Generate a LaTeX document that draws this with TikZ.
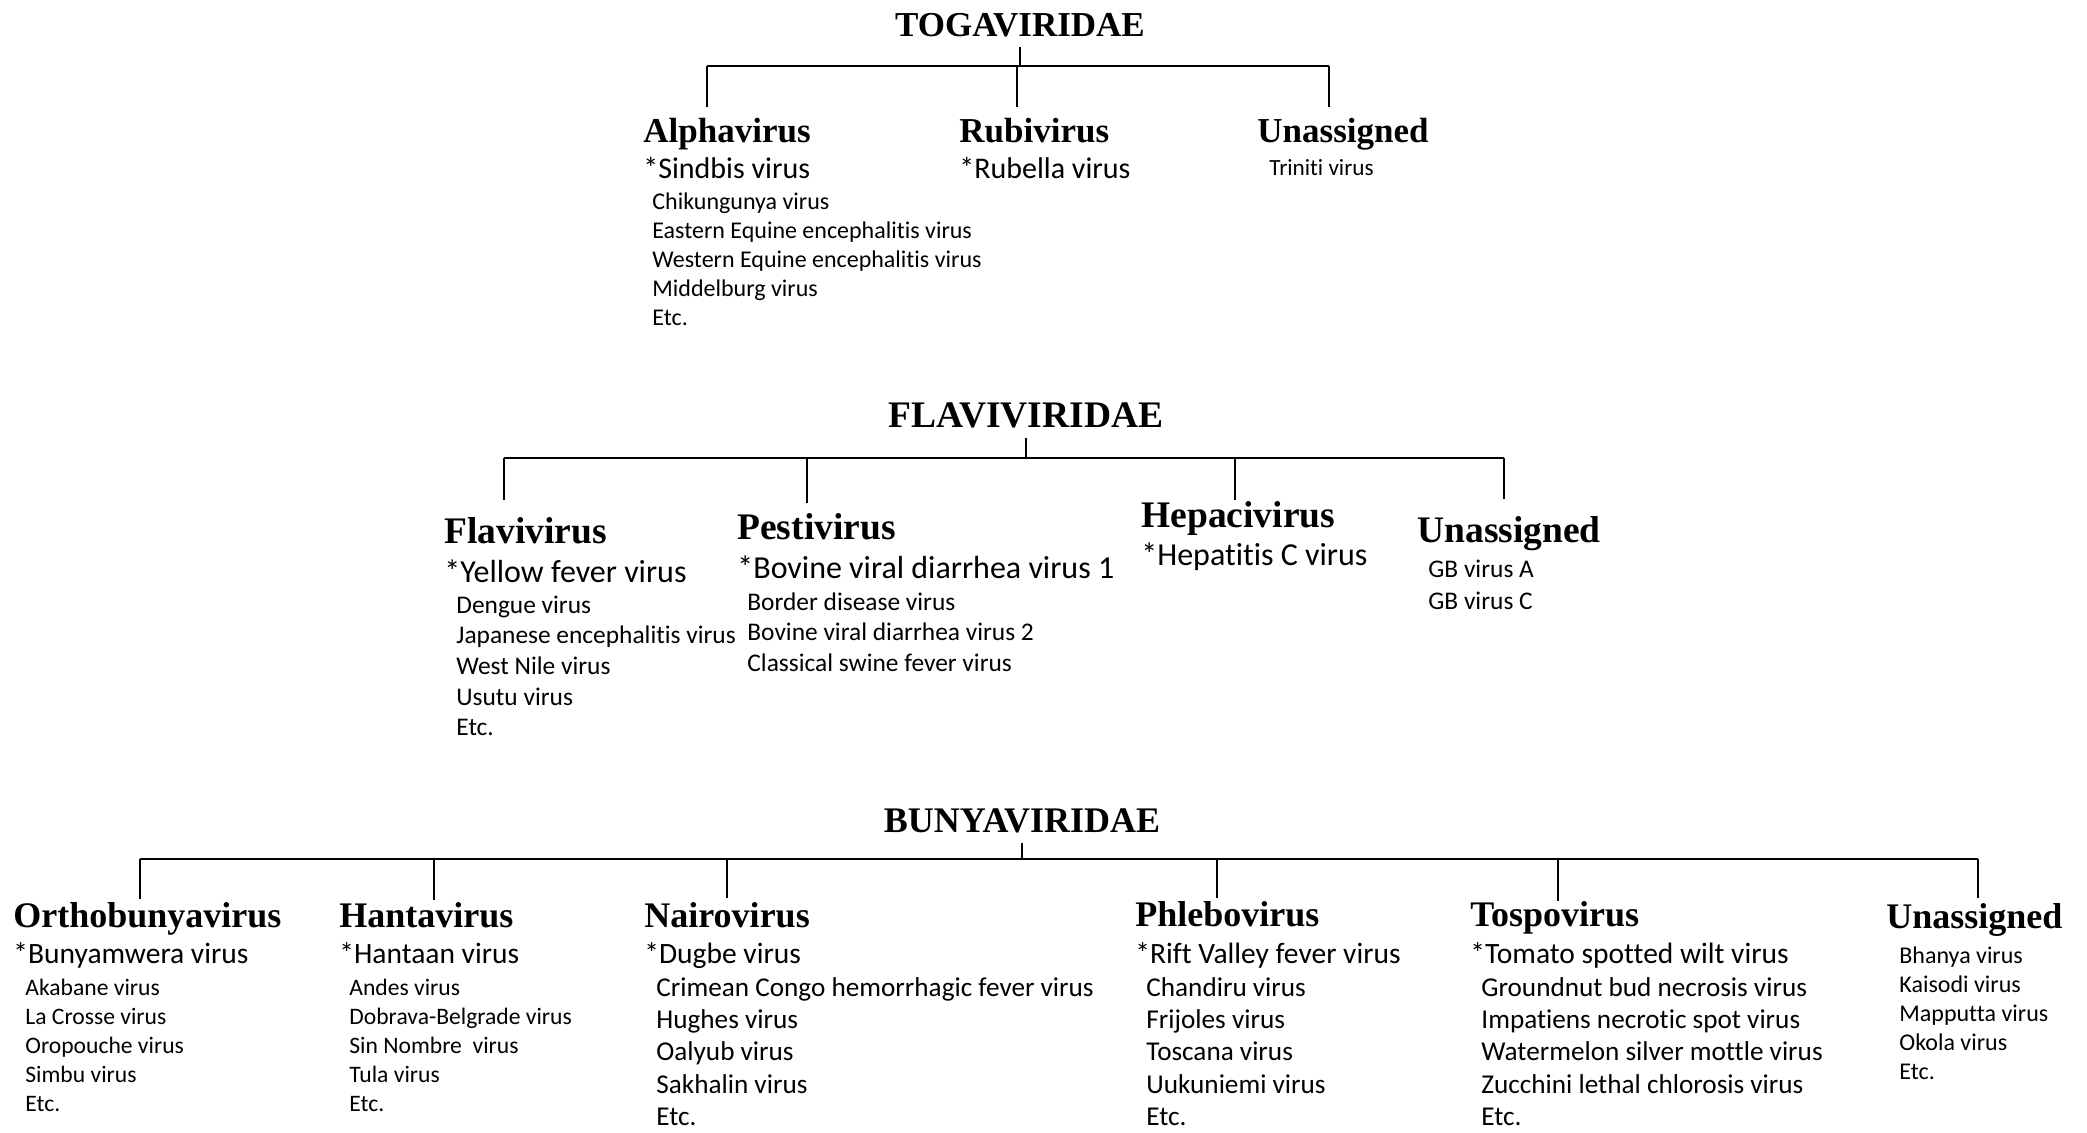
\documentclass[tikz,border=0pt]{standalone}
\usepackage{fontspec}
\newfontfamily\headfont{Liberation Serif}
\newfontfamily\bodyfont{Carlito}[Ligatures=NoCommon]

\begin{document}
\begin{tikzpicture}[x=0.5pt,y=-0.5pt,
  tree/.style={line width=1pt, black},
  bar/.style={line width=1.3pt, black},
  family/.style={inner xsep=0pt, inner ysep=5pt, anchor=base, font=\headfont\bfseries\fontsize{#1pt}{#1pt}\selectfont},
  genus/.style={inner sep=0pt, anchor=base west, font=\headfont\bfseries\fontsize{#1pt}{#1pt}\selectfont},
  species/.style={inner sep=0pt, anchor=base west, font=\bodyfont\fontsize{#1pt}{#1pt}\selectfont}]

\useasboundingbox (0,0) rectangle (2087,1132);

%%%%%%%%%%%%%%%%%%%%%%%%%%%%%%%%%%%%%%%%%%%%%%%%%%%%%%%%%%%%%%%%%%%%%%%%

\node[family=17.5] (toga) at (1020, 36) {TOGAVIRIDAE};
\coordinate (toga-bar) at (1017, 66);

\node[genus=17.5] (alpha) at (643, 142) {Alphavirus};
\node[species=15] (alpha-s) at (643, 178) {*Sindbis virus};
\foreach \v [count=\i from 0] in {Chikungunya virus, Eastern Equine encephalitis virus, Western Equine encephalitis virus, Middelburg virus, Etc.}
  \node[species=12] (alpha-\i) at (652, {209+29*\i}) {\v};

\node[genus=17.5] (rubi) at (959, 142) {Rubivirus};
\node[species=15] (rubi-s) at (959, 178) {*Rubella virus};

\node[genus=17.5] (unas1) at (1257, 142) {Unassigned};
\node[species=11.6] (unas1-0) at (1269, 175) {Triniti virus};

\coordinate (alpha-in) at (707, 107);
\coordinate (rubi-in) at (1017, 107);
\coordinate (unas1-in) at (1329, 107);

\draw[tree] (toga.south) -- (toga.south |- toga-bar);
\draw[bar] (alpha-in |- toga-bar) -- (unas1-in |- toga-bar);
\foreach \g in {alpha, rubi, unas1}
  \draw[tree] (\g-in |- toga-bar) -- (\g-in);

%%%%%%%%%%%%%%%%%%%%%%%%%%%%%%%%%%%%%%%%%%%%%%%%%%%%%%%%%%%%%%%%%%%%%%%%

\node[family=18.75] (flavi) at (1026, 427) {FLAVIVIRIDAE};
\coordinate (flavi-bar) at (1023, 458);

\node[genus=18.75] (flav) at (444, 543) {Flavivirus};
\node[species=16] (flav-s) at (444, 582) {*Yellow fever virus};
\foreach \v [count=\i from 0] in {Dengue virus, Japanese encephalitis virus, West Nile virus, Usutu virus, Etc.}
  \node[species=12.7] (flav-\i) at (456, {613+30.7*\i}) {\v};

\node[genus=18.75] (pesti) at (737, 539) {Pestivirus};
\node[species=16] (pesti-s) at (737, 578) {*Bovine viral diarrhea virus 1};
\foreach \v [count=\i from 0] in {Border disease virus, Bovine viral diarrhea virus 2, Classical swine fever virus}
  \node[species=12.7] (pesti-\i) at (747, {610+30.7*\i}) {\v};

\node[genus=18.75] (hepaci) at (1141, 527) {Hepacivirus};
\node[species=16] (hepaci-s) at (1141, 565) {*Hepatitis C virus};

\node[genus=18.75] (unas2) at (1417, 542) {Unassigned};
\foreach \v [count=\i from 0] in {GB virus A, GB virus C}
  \node[species=12.7] (unas2-\i) at (1428, {577+32*\i}) {\v};

\coordinate (flav-in) at (504, 500);
\coordinate (pesti-in) at (807, 503);
\coordinate (hepaci-in) at (1235, 500);
\coordinate (unas2-in) at (1504, 499);

\draw[tree] (flavi.south) -- (flavi.south |- flavi-bar);
\draw[bar] (flav-in |- flavi-bar) -- (unas2-in |- flavi-bar);
\foreach \g in {flav, pesti, hepaci, unas2}
  \draw[tree] (\g-in |- flavi-bar) -- (\g-in);

%%%%%%%%%%%%%%%%%%%%%%%%%%%%%%%%%%%%%%%%%%%%%%%%%%%%%%%%%%%%%%%%%%%%%%%%

\node[family=18] (bunya) at (1022, 832) {BUNYAVIRIDAE};
\coordinate (bunya-bar) at (1019, 859);

\node[genus=18] (ortho) at (13, 927) {Orthobunyavirus};
\node[species=14.75] (ortho-s) at (13, 963) {*Bunyamwera virus};
\foreach \v [count=\i from 0] in {Akabane virus, La Crosse virus, Oropouche virus, Simbu virus, Etc.}
  \node[species=11.8] (ortho-\i) at (25, {995+29*\i}) {\v};

\node[genus=18] (hanta) at (339, 927) {Hantavirus};
\node[species=14.75] (hanta-s) at (339, 963) {*Hantaan virus};
\foreach \v [count=\i from 0] in {Andes virus, Dobrava-Belgrade virus, Sin Nombre~ virus, Tula virus, Etc.}
  \node[species=11.8] (hanta-\i) at (349, {995+29*\i}) {\v};

\node[genus=18] (nairo) at (644, 927) {Nairovirus};
\node[species=14.75] (nairo-s) at (644, 963) {*Dugbe virus};
\foreach \v [count=\i from 0] in {Crimean Congo hemorrhagic fever virus, Hughes virus, Oalyub virus, Sakhalin virus, Etc.}
  \node[species=13.6] (nairo-\i) at (656, {996+32.4*\i}) {\v};

\node[genus=18] (phlebo) at (1135, 926) {Phlebovirus};
\node[species=14.75] (phlebo-s) at (1135, 963) {*Rift Valley fever virus};
\foreach \v [count=\i from 0] in {Chandiru virus, Frijoles virus, Toscana virus, Uukuniemi virus, Etc.}
  \node[species=13.6] (phlebo-\i) at (1146, {996+32.4*\i}) {\v};

\node[genus=18] (tospo) at (1470, 926) {Tospovirus};
\node[species=14.75] (tospo-s) at (1470, 963) {*Tomato spotted wilt virus};
\foreach \v [count=\i from 0] in {Groundnut bud necrosis virus, Impatiens necrotic spot virus, Watermelon silver mottle virus, Zucchini lethal chlorosis virus, Etc.}
  \node[species=13.6] (tospo-\i) at (1481, {996+32.4*\i}) {\v};

\node[genus=18] (unas3) at (1886, 928) {Unassigned};
\foreach \v [count=\i from 0] in {Bhanya virus, Kaisodi virus, Mapputta virus, Okola virus, Etc.}
  \node[species=12] (unas3-\i) at (1899, {963+29*\i}) {\v};

\coordinate (ortho-in) at (140, 899);
\coordinate (hanta-in) at (434, 900);
\coordinate (nairo-in) at (727, 898);
\coordinate (phlebo-in) at (1217, 898);
\coordinate (tospo-in) at (1558, 901);
\coordinate (unas3-in) at (1978, 898);

\draw[tree] (bunya.south) -- (bunya.south |- bunya-bar);
\draw[bar] (ortho-in |- bunya-bar) -- (unas3-in |- bunya-bar);
\foreach \g in {ortho, hanta, nairo, phlebo, tospo, unas3}
  \draw[tree] (\g-in |- bunya-bar) -- (\g-in);

%%%%%%%%%%%%%%%%%%%%%%%%%%%%%%%%%%%%%%%%%%%%%%%%%%%%%%%%%%%%%%%%%%%%%%%%

\end{tikzpicture}
\end{document}
